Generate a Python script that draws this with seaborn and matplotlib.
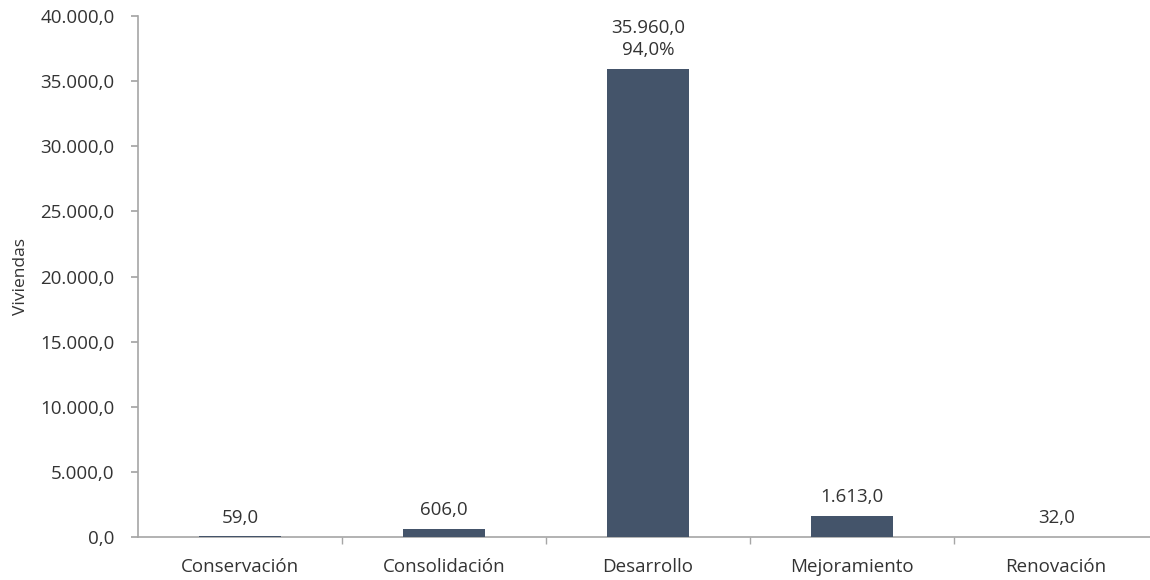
import numpy as np
import pandas as pd
import matplotlib
matplotlib.use("Agg")
import matplotlib.pyplot as plt
import seaborn as sns

# datos
categorias = ["Conservación", "Consolidación", "Desarrollo", "Mejoramiento", "Renovación"]
viviendas = [59.0, 606.0, 35960.0, 1613.0, 32.0]
y_ticks = [0, 5000, 10000, 15000, 20000, 25000, 30000, 35000, 40000]


def fmt_es(v, dec=1):
    s = f"{v:,.{dec}f}"
    return s.replace(",", "X").replace(".", ",").replace("X", ".")


df = pd.DataFrame({"categoria": categorias, "viviendas": viviendas})
total = df["viviendas"].sum()

sns.set_theme(style="white")
plt.rcParams["font.family"] = ["Open Sans", "DejaVu Sans"]

FS = 13.5
TXT = "#333333"
GRIS = "#A6A6A6"

fig = plt.figure(figsize=(11.5, 5.8), dpi=100)
ax = fig.add_axes([138 / 1150, 1 - 537 / 580, 1 - 138 / 1150, (537 - 16) / 580])

sns.barplot(data=df, x="categoria", y="viviendas", color="#44546A",
            width=0.4, saturation=1, linewidth=0, ax=ax, zorder=3)

# etiquetas de valor
imax = int(np.argmax(viviendas))
for i, v in enumerate(viviendas):
    txt = fmt_es(v)
    if i == imax:
        txt += "\n" + fmt_es(v / total * 100) + "%"
    ax.annotate(txt, xy=(i, v), xytext=(0, 7), textcoords="offset points",
                ha="center", va="bottom", fontsize=FS, color=TXT,
                linespacing=1.25)

ax.set_ylim(0, 40000)
ax.set_xlim(-0.5, 4.46)
ax.set_yticks(y_ticks)
ax.set_yticklabels([fmt_es(t) for t in y_ticks], fontsize=FS, color=TXT)
ax.set_xticks(range(len(categorias)))
ax.set_xticklabels(categorias, fontsize=FS, color=TXT)
ax.set_xlabel("")
ax.set_ylabel("Viviendas", fontsize=FS - 1, color=TXT)
ax.yaxis.set_label_coords(-0.108, 0.5)

# ejes estilo excel
for s in ["top", "right"]:
    ax.spines[s].set_visible(False)
for s in ["left", "bottom"]:
    ax.spines[s].set_color(GRIS)
    ax.spines[s].set_linewidth(1.2)
    ax.spines[s].set_zorder(1)
ax.tick_params(axis="y", which="major", left=True, length=5, color=GRIS, pad=12)
ax.tick_params(axis="x", which="major", bottom=False, pad=9)
ax.set_xticks(np.arange(0.5, len(categorias) - 0.5, 1), minor=True)
ax.tick_params(axis="x", which="minor", bottom=True, length=5, color=GRIS)

fig.savefig("out.png", dpi=100)
